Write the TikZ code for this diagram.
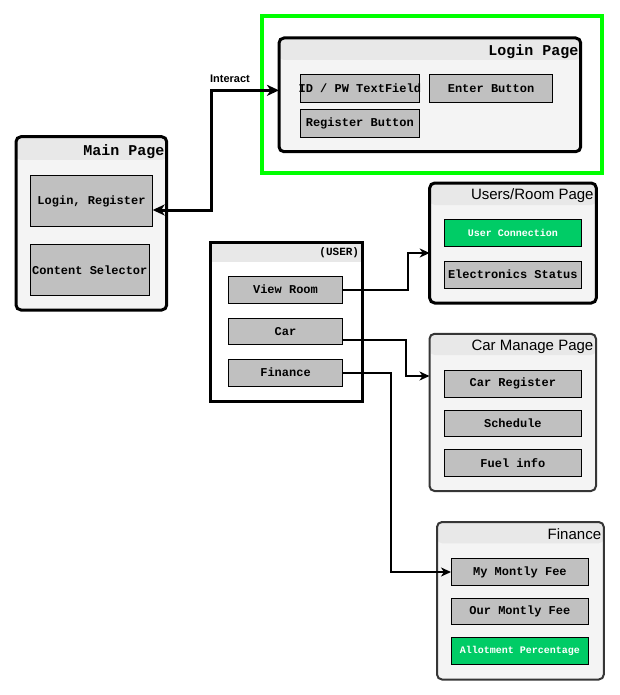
\documentclass[tikz,border=0pt]{standalone}
\usepackage{fontspec}
\setmainfont{Liberation Sans}
\setmonofont{Liberation Mono}
\usetikzlibrary{arrows.meta}
\definecolor{frame}{HTML}{00FF00}
\definecolor{pagefill}{HTML}{F4F4F4}
\definecolor{hdrfill}{HTML}{E8E8E8}
\definecolor{btngray}{HTML}{C0C0C0}
\definecolor{okgreen}{HTML}{00CC66}
\definecolor{softborder}{HTML}{363636}
\begin{document}
\begin{tikzpicture}[x=1pt,y=-1pt,
 box/.style={inner sep=0pt, outer sep=0pt, anchor=north west},
 page/.style={box, draw=black, line width=3pt, rounded corners=5pt, fill=pagefill},
 softpage/.style={page, draw=softborder, line width=2pt},
 hdr/.style={path picture={\fill[hdrfill] (path picture bounding box.north west) rectangle ([yshift=-#1]path picture bounding box.north east);}},
 btn/.style={box, draw=black, line width=1pt, fill=btngray, font=\ttfamily\bfseries\fontsize{12}{14}\selectfont},
 greenbtn/.style={btn, fill=okgreen, text=white, font=\ttfamily\bfseries\fontsize{10}{12}\selectfont},
 monotitle/.style={anchor=east, inner sep=0pt, font=\ttfamily\bfseries\fontsize{15}{17}\selectfont},
 sanstitle/.style={anchor=east, inner sep=0pt, font=\fontsize{15}{17}\selectfont},
 link/.style={draw=black, line width=2pt, -{Stealth[length=10pt,width=9pt,inset=3pt]}},
 biglink/.style={draw=black, line width=3pt, {Stealth[length=12pt,width=11pt,inset=3.5pt]}-{Stealth[length=12pt,width=11pt,inset=3.5pt]}},
 lbl/.style={inner sep=0pt, font=\bfseries\fontsize{11}{13}\selectfont}
]
\useasboundingbox (0,0) rectangle (619,695);

% Login page
\node[box, draw=frame, line width=4pt, minimum width=340.3pt, minimum height=157pt] (frameL) at (261.7,15.7) {};
\node[page, hdr=22pt, minimum width=301.7pt, minimum height=113.7pt] (login) at (279,38) {};
\node[monotitle] (loginT) at ([xshift=-2pt,yshift=-13.5pt]login.north east) {Login Page};
\node[btn, minimum width=119.7pt, minimum height=27.3pt] (idpw) at (300,75) {\makebox[0pt]{ID / PW TextField}};
\node[btn, minimum width=123.4pt, minimum height=27.3pt] (enter) at (429.3,75) {Enter Button};
\node[btn, minimum width=119.7pt, minimum height=27.3pt] (register) at (300,110) {Register Button};

% Main page
\node[page, hdr=23.3pt, minimum width=150.7pt, minimum height=173.3pt] (main) at (16,136.7) {};
\node[monotitle] (mainT) at ([xshift=-2pt,yshift=-14.8pt]main.north east) {Main Page};
\node[btn, minimum width=122.4pt, minimum height=51.4pt] (loginreg) at (30.3,175.3) {Login, Register};
\node[btn, minimum width=119pt, minimum height=51pt] (selector) at (30.3,244.3) {Content Selector};

% USER
\node[box, draw=black, line width=3pt, fill=white, hdr=19.4pt, minimum width=151.6pt, minimum height=159pt] (user) at (210.7,242.3) {};
\node[monotitle, font=\ttfamily\bfseries\fontsize{11}{13}\selectfont] (userT) at ([xshift=-3pt,yshift=-10.7pt]user.north east) {(USER)};
\node[btn, minimum width=114.4pt, minimum height=27.3pt] (viewroom) at (228.3,276) {View Room};
\node[btn, minimum width=114.4pt, minimum height=26pt] (car) at (228.3,318.3) {Car};
\node[btn, minimum width=114.4pt, minimum height=27.3pt] (finbtn) at (228.3,359) {Finance};

% Users/Room page
\node[page, hdr=22pt, minimum width=166.6pt, minimum height=120pt] (users) at (429.7,183) {};
\node[sanstitle] (usersT) at ([xshift=-2.5pt,yshift=-12.5pt]users.north east) {Users/Room Page};
\node[greenbtn, minimum width=137.7pt, minimum height=27.4pt] (userconn) at (444,219.3) {User Connection};
\node[btn, minimum width=137.7pt, minimum height=27.3pt] (elec) at (444,261) {Electronics Status};

% Car manage page
\node[softpage, hdr=21.2pt, minimum width=166.5pt, minimum height=157.2pt] (carpage) at (429.5,333.8) {};
\node[sanstitle] (carpageT) at ([xshift=-2.5pt,yshift=-12.7pt]carpage.north east) {Car Manage Page};
\node[btn, minimum width=137.7pt, minimum height=27.3pt] (carreg) at (444,370) {Car Register};
\node[btn, minimum width=137.7pt, minimum height=26.7pt] (schedule) at (444,410) {Schedule};
\node[btn, minimum width=137.7pt, minimum height=27.7pt] (fuel) at (444,449) {Fuel info};

% Finance page
\node[softpage, hdr=21.3pt, minimum width=166.8pt, minimum height=157.5pt] (finpage) at (437,522) {};
\node[sanstitle] (finpageT) at ([xshift=-2.5pt,yshift=-12.5pt]finpage.north east) {Finance};
\node[btn, minimum width=137.7pt, minimum height=27.4pt] (myfee) at (451,558.3) {My Montly Fee};
\node[btn, minimum width=137.7pt, minimum height=26.4pt] (ourfee) at (451,598.3) {Our Montly Fee};
\node[greenbtn, minimum width=137.7pt, minimum height=27.4pt] (allot) at (451,637.3) {Allotment Percentage};

% Connectors
\draw[biglink] ([yshift=-9pt]loginreg.east) -- ++(58.4,0) |- ([yshift=4.5pt]login.west);
\node[lbl] (interact) at (230,78.3) {Interact};
\draw[link] (viewroom.east) -- ++(65,0) |- ([yshift=-10pt]users.west);
\draw[link] ([yshift=-8.7pt]car.east) -- ++(63,0) |- ([yshift=36.4pt]carpage.west);
\draw[link] (finbtn.east) -- ++(48.3,0) |- (myfee.west);
\end{tikzpicture}
\end{document}
